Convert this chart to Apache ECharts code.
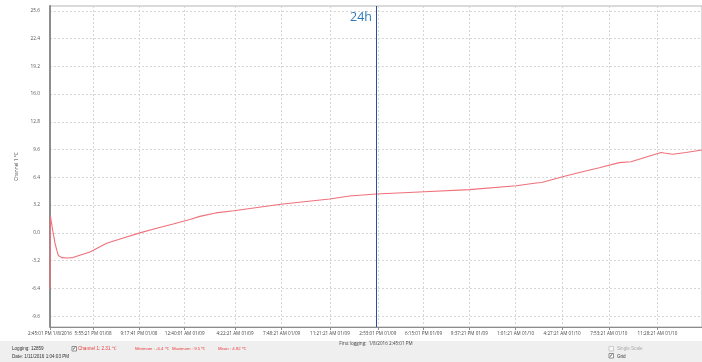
<!DOCTYPE html>
<html>
<head>
<meta charset="utf-8">
<script src="https://cdn.jsdelivr.net/npm/echarts@6/dist/echarts.min.js"></script>
<style>
  html, body { margin: 0; padding: 0; background: #ffffff; }
  #chart { width: 702px; height: 362px; }
</style>
</head>
<body>
<div id="chart"></div>
<script>
// Channel 1 log: hours elapsed since first logging and temperature in °C
const elapsedHours = [0, 0.03, 0.2, 0.37, 0.5, 0.61, 0.75, 0.86, 1.25, 1.69, 1.96, 2.94, 4.17, 5.39,
  6.62, 7.85, 9.07, 10.29, 11.03, 12.2, 13.53, 16.99, 20.59, 22.06, 24.02, 27.57, 30.88, 34.32, 35.79,
  36.2, 37.74, 38.97, 40.44, 41.91, 42.77, 44.98, 45.22, 45.83, 46.82, 48.0];
const temperatures = [-6.4, 1.9, 0.3, -1.2, -2.0, -2.6, -2.8, -2.85, -2.9, -2.85, -2.7, -2.2, -1.2, -0.6,
  0.0, 0.53, 1.03, 1.55, 1.9, 2.3, 2.55, 3.3, 3.9, 4.25, 4.48, 4.74, 4.98, 5.43, 5.74,
  5.8, 6.47, 6.96, 7.5, 8.1, 8.19, 9.26, 9.2, 9.07, 9.26, 9.55];

// Time axis ticks
const tickTimes = ['2016-01-08T14:45:01Z', '2016-01-08T17:55:21Z', '2016-01-08T21:17:41Z',
  '2016-01-09T00:40:01Z', '2016-01-09T04:22:21Z', '2016-01-09T07:48:21Z', '2016-01-09T11:21:21Z',
  '2016-01-09T14:53:01Z', '2016-01-09T18:15:01Z', '2016-01-09T21:37:21Z', '2016-01-10T01:01:21Z',
  '2016-01-10T04:27:21Z', '2016-01-10T07:53:21Z', '2016-01-10T11:28:21Z'];
const tickLabels = ['2:45:01 PM 1/8/2016', '5:55:21 PM 01/08', '9:17:41 PM 01/08',
  '12:40:01 AM 01/09', '4:22:21 AM 01/09', '7:48:21 AM 01/09', '11:21:21 AM 01/09',
  '2:53:01 PM 01/09', '6:15:01 PM 01/09', '9:37:21 PM 01/09', '1:01:21 AM 01/10',
  '4:27:21 AM 01/10', '7:53:21 AM 01/10', '11:28:21 AM 01/10'];
// Temperature axis ticks
const yTicks = [-9.6, -6.4, -3.2, 0.0, 3.2, 6.4, 9.6, 12.8, 16.0, 19.2, 22.4, 25.6];

const firstLogging = Date.parse('2016-01-08T14:45:01Z');
const HOUR = 3600 * 1000;
const spanHours = 48;
const markerHours = 24;

// the x axis runs in hours since the first logging
const tickValues = tickTimes.map(t => (Date.parse(t) - firstLogging) / HOUR);
const labelAt = v => {
  let best = 0;
  tickValues.forEach((t, i) => { if (Math.abs(t - v) < Math.abs(tickValues[best] - v)) best = i; });
  return tickLabels[best];
};
const seriesData = elapsedHours.map((h, i) => [h, temperatures[i]]);

const tinyFont = 'Open Sans, DejaVu Sans, sans-serif';
const statusFont = 'Liberation Sans, Arial, sans-serif';
const chart = echarts.init(document.getElementById('chart'), null, { renderer: 'canvas' });

chart.setOption({
  animation: false,
  backgroundColor: '#ffffff',
  grid: {
    left: 50, top: 6, right: -1, bottom: 35,
    show: true, borderColor: '#b4b4b4', borderWidth: 1, backgroundColor: '#ffffff'
  },
  xAxis: {
    type: 'value',
    min: 0,
    max: spanHours,
    name: 'First logging:  1/8/2016 2:45:01 PM',
    nameLocation: 'middle',
    nameGap: 10,
    nameTextStyle: { fontSize: 4.6, color: '#444', fontFamily: tinyFont },
    axisLine: { show: true, onZero: false, lineStyle: { color: '#8c8c8c', width: 1 } },
    axisTick: { show: true, customValues: tickValues, length: 3, lineStyle: { color: '#8c8c8c' } },
    axisLabel: {
      customValues: tickValues,
      formatter: v => labelAt(v),
      fontSize: 4.6, color: '#444', fontFamily: tinyFont, margin: 4,
      hideOverlap: false, showMinLabel: true, showMaxLabel: true
    },
    splitLine: { show: true, lineStyle: { color: '#d6d6d6', type: [2, 2], width: 1 } }
  },
  yAxis: {
    type: 'value',
    min: -10.85,
    max: 26.15,
    name: 'Channel 1 °C',
    nameLocation: 'middle',
    nameGap: 14,
    nameRotate: 90,
    nameTextStyle: { fontSize: 4.8, color: '#444', fontFamily: tinyFont },
    axisLine: { show: true, lineStyle: { color: '#8c8c8c', width: 2 } },
    axisTick: { show: false, customValues: yTicks },
    axisLabel: {
      customValues: yTicks,
      formatter: v => v.toFixed(1),
      fontSize: 4.8, color: '#555', fontFamily: tinyFont, margin: 10
    },
    splitLine: { show: true, lineStyle: { color: '#d6d6d6', type: [2, 2], width: 1 } }
  },
  series: [{
    name: 'Channel 1',
    type: 'line',
    data: seriesData,
    showSymbol: false,
    symbol: 'none',
    lineStyle: { color: '#ef7079', width: 1.1 },
    markLine: {
      silent: true,
      symbol: 'none',
      label: { show: false },
      lineStyle: { color: '#2d4c9e', width: 1, type: 'solid' },
      data: [{ xAxis: markerHours }]
    },
    markPoint: {
      silent: true,
      symbol: 'circle',
      symbolSize: 0,
      label: {
        show: true, position: 'left', distance: 4,
        formatter: '24h', fontSize: 12.5, color: '#2f79b6',
        fontFamily: 'Open Sans, DejaVu Sans, sans-serif'
      },
      data: [{ coord: [markerHours, 24.85] }]
    }
  }],
  graphic: [
    { type: 'rect', shape: { x: 0, y: 341, width: 702, height: 21 }, style: { fill: '#efefef' }, z: 0 },
    { type: 'text', left: 12, top: 346.5, style: { text: 'Logging: 12859', fontSize: 4.6, fill: '#333', fontFamily: statusFont } },
    { type: 'text', left: 12, top: 354, style: { text: 'Date: 1/11/2016 1:04:03 PM', fontSize: 4.6, fill: '#333', fontFamily: statusFont } },
    { type: 'rect', shape: { x: 72, y: 346.5, width: 4.5, height: 4.5 }, style: { fill: '#fff', stroke: '#666', lineWidth: 0.7 } },
    { type: 'text', left: 72.3, top: 345.8, style: { text: '✓', fontSize: 5, fill: '#222', fontFamily: 'DejaVu Sans' } },
    { type: 'text', left: 78, top: 346.5, style: { text: 'Channel 1: 2.31 ℃', fontSize: 4.6, fill: '#ec3b3b', fontFamily: statusFont } },
    { type: 'text', left: 135, top: 346.5, style: { text: 'Minimum : -6.4 ℃', fontSize: 4.3, fill: '#ec3b3b', fontFamily: statusFont } },
    { type: 'text', left: 172, top: 346.5, style: { text: 'Maximum : 9.5 ℃', fontSize: 4.3, fill: '#ec3b3b', fontFamily: statusFont } },
    { type: 'text', left: 218, top: 346.5, style: { text: 'Mean : 4.82 ℃', fontSize: 4.3, fill: '#ec3b3b', fontFamily: statusFont } },
    { type: 'rect', shape: { x: 609, y: 346.5, width: 4.5, height: 4.5 }, style: { fill: '#f7f7f7', stroke: '#bbb', lineWidth: 0.7 } },
    { type: 'text', left: 617, top: 346.5, style: { text: 'Single Scale', fontSize: 4.6, fill: '#aaa', fontFamily: statusFont } },
    { type: 'rect', shape: { x: 609, y: 353.5, width: 4.5, height: 4.5 }, style: { fill: '#fff', stroke: '#666', lineWidth: 0.7 } },
    { type: 'text', left: 609.3, top: 352.8, style: { text: '✓', fontSize: 5, fill: '#222', fontFamily: 'DejaVu Sans' } },
    { type: 'text', left: 617, top: 354, style: { text: 'Grid', fontSize: 4.6, fill: '#333', fontFamily: statusFont } }
  ]
});
</script>
</body>
</html>
